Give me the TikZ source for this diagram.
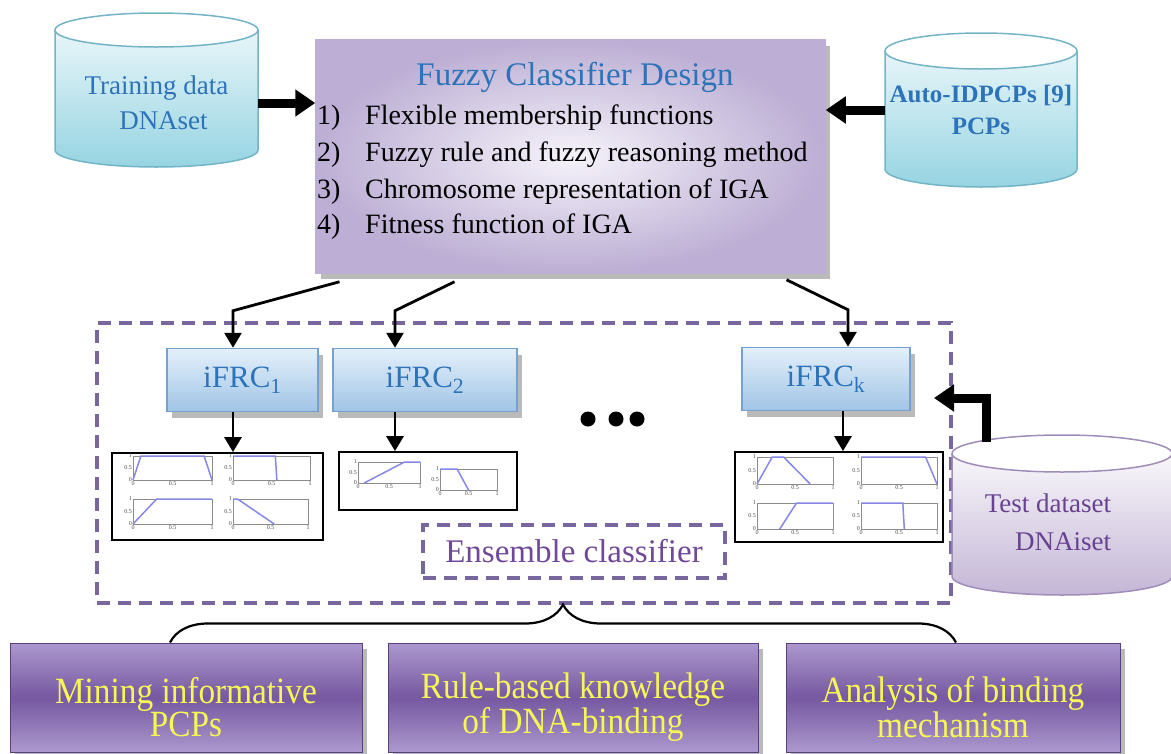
\documentclass[tikz,border=0pt]{standalone}
\usepackage{fontspec}
\setmainfont{Liberation Serif}
\newfontfamily\narrowserif[FakeStretch=0.9]{Liberation Serif}
\usetikzlibrary{positioning, arrows.meta, decorations.pathreplacing, shadows, calc}

\definecolor{titleblue}{RGB}{45,115,185}
\definecolor{drumcyan}{RGB}{150,212,226}
\definecolor{drumrim}{RGB}{115,180,198}
\definecolor{drumlilac}{RGB}{196,182,214}
\definecolor{lilacrim}{RGB}{160,140,185}
\definecolor{lilactext}{RGB}{105,65,145}
\definecolor{designlight}{RGB}{246,243,250}
\definecolor{designdark}{RGB}{188,174,212}
\definecolor{frctop}{RGB}{228,240,251}
\definecolor{frcbottom}{RGB}{160,196,230}
\definecolor{frcrim}{RGB}{118,160,205}
\definecolor{poolpurple}{RGB}{120,102,158}
\definecolor{votetext}{RGB}{112,72,152}
\definecolor{gainlight}{RGB}{172,152,206}
\definecolor{gaindark}{RGB}{118,88,160}
\definecolor{gainrim}{RGB}{88,64,128}
\definecolor{gaintext}{RGB}{246,246,86}
\definecolor{mfblue}{RGB}{135,135,230}

\tikzset{
  fatarrow/.style={line width=9pt, -{Triangle[length=20pt,width=26pt]}},
  thinarrow/.style={line width=2.8pt, -{Triangle[length=15pt,width=17pt]}},
  boxshadow/.style={drop shadow={shadow xshift=5pt, shadow yshift=-6pt, fill=black!45, opacity=0.6}},
  designbox/.style={draw=designdark, line width=1.5pt, inner color=designlight, outer color=designdark, boxshadow},
  frcbox/.style={draw=frcrim, line width=1.5pt, top color=frctop, bottom color=frcbottom,
    minimum height=63pt, font=\fontsize{31}{31}\selectfont, text=titleblue, boxshadow},
  gainbox/.style={draw=gainrim, line width=1pt, top color=gainlight, bottom color=gainlight,
    middle color=gaindark, minimum height=109pt, boxshadow},
  gaintext/.style={align=center, text=gaintext, font=\narrowserif\fontsize{37}{30}\selectfont},
  plotframe/.style={draw=black, line width=1.8pt, fill=white},
  dashframe/.style={draw=poolpurple, line width=3.3pt, dash pattern=on 13pt off 8pt},
  ticklabel/.style={font=\fontsize{6}{6}\selectfont, inner sep=1pt, text=black!70},
}

% data drum: centre x, top, bottom, x radius, y radius, shading, rim colour
\newcommand{\drum}[7]{%
  \shade[#6] (#1-#4,#2+#5) -- (#1-#4,#3-#5)
    arc[start angle=180, end angle=360, x radius=#4pt, y radius=#5pt]
    -- (#1+#4,#2+#5)
    arc[start angle=0, end angle=180, x radius=#4pt, y radius=#5pt] -- cycle;
  \draw[#7, line width=1.5pt] (#1-#4,#2+#5) -- (#1-#4,#3-#5)
    arc[start angle=180, end angle=360, x radius=#4pt, y radius=#5pt]
    -- (#1+#4,#2+#5);
  \draw[#7, line width=1.5pt, fill=white] (#1,#2+#5) ellipse[x radius=#4pt, y radius=#5pt];
}

% membership plot: name, left, top, width, height, curve
\newcommand{\mfplot}[6]{%
  \begin{scope}[shift={(#2,#3+#5)}, x=#4pt, y=#5pt]
    \draw[black!45, line width=0.7pt] (0,0) rectangle (1,1);
    \draw[mfblue, line width=1.5pt] plot coordinates {#6};
    \node[ticklabel, left] (#1-y0) at (0,0) {0};
    \node[ticklabel, left] (#1-y5) at (0,0.5) {0.5};
    \node[ticklabel, left] (#1-y1) at (0,1) {1};
    \node[ticklabel, below] (#1-x0) at (0,0) {0};
    \node[ticklabel, below] (#1-x5) at (0.5,0) {0.5};
    \node[ticklabel, below] (#1-x1) at (1,0) {1};
  \end{scope}}

\begin{document}
\begin{tikzpicture}[x=1pt, y=-1pt, >=Triangle]
  \useasboundingbox (0,0) rectangle (1171,753);

  % ensemble frame
  \node[dashframe, minimum width=854pt, minimum height=280pt] (pool) at (524,463) {};

  % data sources
  \drum{156.5}{13}{167}{101.5}{17}{top color=drumcyan!12, bottom color=drumcyan}{drumrim}
  \node[align=center, text=titleblue, font=\fontsize{27}{35}\selectfont, minimum width=203pt] (train) at (156.5,103) {Training data\\\hspace*{14pt}DNAset};

  \drum{981}{33}{187}{96}{18}{top color=drumcyan!12, bottom color=drumcyan}{drumrim}
  \node[align=center, text=titleblue, font=\bfseries\fontsize{25}{32}\selectfont, minimum width=192pt] (pcp) at (981,110) {Auto-IDPCPs [9]\\PCPs};

  \drum{1062}{435}{595}{110}{18.5}{top color=white, bottom color=drumlilac}{lilacrim}
  \node[align=right, text=lilactext, font=\fontsize{27}{38}\selectfont] (test) at (1048,522) {Test dataset\\DNAiset};

  % design box
  \node[designbox, minimum width=509pt, minimum height=233pt] (design) at (570.5,156.5) {};
  \node[anchor=base, text=titleblue, font=\fontsize{33}{33}\selectfont] (designtitle) at (575,85) {Fuzzy Classifier Design};
  \node[anchor=base west, inner sep=0pt, font=\fontsize{28}{28}\selectfont] (step1) at (317,124) {\makebox[48pt][l]{1)}Flexible membership functions};
  \node[anchor=base west, inner sep=0pt, font=\fontsize{28}{28}\selectfont] (step2) at (317,161) {\makebox[48pt][l]{2)}Fuzzy rule and fuzzy reasoning method};
  \node[anchor=base west, inner sep=0pt, font=\fontsize{28}{28}\selectfont] (step3) at (317,198) {\makebox[48pt][l]{3)}Chromosome representation of IGA};
  \node[anchor=base west, inner sep=0pt, font=\fontsize{28}{28}\selectfont] (step4) at (317,233) {\makebox[48pt][l]{4)}Fitness function of IGA};

  % classifiers
  \node[frcbox, minimum width=151pt] (frc1) at (242.5,380) {iFRC\textsubscript{1}};
  \node[frcbox, minimum width=184pt] (frc2) at (425,380) {iFRC\textsubscript{2}};
  \node[frcbox, minimum width=168pt] (frck) at (826,379) {iFRC\textsubscript{k}};

  \fill (588,419) circle (7.5pt);
  \fill (616,419) circle (7.5pt);
  \fill (637,419) circle (7.5pt);

  % membership functions
  \node[plotframe, minimum width=211pt, minimum height=87pt] (plot1) at (217.5,496.5) {};
  \node[plotframe, minimum width=178pt, minimum height=58pt] (plot2) at (428,481) {};
  \node[plotframe, minimum width=208pt, minimum height=90pt] (plotk) at (839,497) {};

  \mfplot{pa}{133}{456}{79}{24}{(0,0) (0.1,1) (0.9,1) (1,0)}
  \mfplot{pb}{233}{456}{77}{24}{(0,1) (0.55,1) (0.57,0)}
  \mfplot{pc}{133}{499}{79}{25}{(0,0) (0.3,1) (1,1)}
  \mfplot{pd}{233}{499}{75}{25}{(0,1) (0.06,1) (0.55,0)}
  \mfplot{qa}{358}{462}{62}{21}{(0.1,0) (0.75,1) (1,1)}
  \mfplot{qb}{440}{469}{57}{21}{(0,1) (0.3,1) (0.5,0)}
  \mfplot{ra}{757}{457}{76}{27}{(0,0) (0.2,1) (0.35,1) (0.7,0)}
  \mfplot{rb}{861}{457}{76}{27}{(0,1) (0.85,1) (1,0)}
  \mfplot{rc}{757}{503}{76}{26}{(0.3,0) (0.52,1) (1,1)}
  \mfplot{rd}{861}{503}{76}{26}{(0,1) (0.55,1) (0.57,0)}

  \node[dashframe, minimum width=302pt, minimum height=53pt, text=votetext, font=\fontsize{33}{33}\selectfont] (vote) at (574,551.5) {Ensemble classifier};

  % arrows
  \draw[fatarrow] (train.east) -- (train.east -| design.west);
  \draw[fatarrow] (pcp.west) -- (pcp.west -| design.east);
  \coordinate (testtap) at (986,442);
  \coordinate (testin) at (934,398);
  \draw[fatarrow] (testtap) |- (testin);

  \draw[thinarrow] ([xshift=-231pt,yshift=-8pt]design.south) -- ([xshift=-9.5pt,yshift=37pt]frc1.north) -- ([xshift=-9.5pt]frc1.north);
  \draw[thinarrow] ([xshift=-116pt,yshift=-8pt]design.south) -- ([xshift=-30pt,yshift=37pt]frc2.north) -- ([xshift=-30pt]frc2.north);
  \draw[thinarrow] ([xshift=216pt,yshift=-6pt]design.south) -- ([xshift=22pt,yshift=37pt]frck.north) -- ([xshift=22pt]frck.north);

  \coordinate (out1) at ([xshift=-9.5pt]frc1.south);
  \coordinate (out2) at ([xshift=-30pt]frc2.south);
  \coordinate (outk) at ([xshift=17pt]frck.south);
  \draw[thinarrow] (out1) -- (out1 |- plot1.north);
  \draw[thinarrow] (out2) -- (out2 |- plot2.north);
  \draw[thinarrow] (outk) -- (outk |- plotk.north);

  % outcomes
  \node[gainbox, minimum width=352pt] (mine) at (186,697.5) {};
  \node[gaintext] (minetext) at (186,707) {Mining informative\\PCPs};
  \node[gainbox, minimum width=370pt] (rules) at (573,697.5) {};
  \node[gaintext] (rulestext) at (573,707) {Rule-based knowledge\\of DNA-binding};
  \node[gainbox, minimum width=334pt] (mech) at (953,697.5) {};
  \node[gaintext] (mechtext) at (953,707) {Analysis of binding\\mechanism};

  \draw[line width=2.2pt, decorate, decoration={brace, amplitude=38pt}] ([xshift=-16pt]mine.north) -- ([xshift=3pt]mech.north);
\end{tikzpicture}
\end{document}
